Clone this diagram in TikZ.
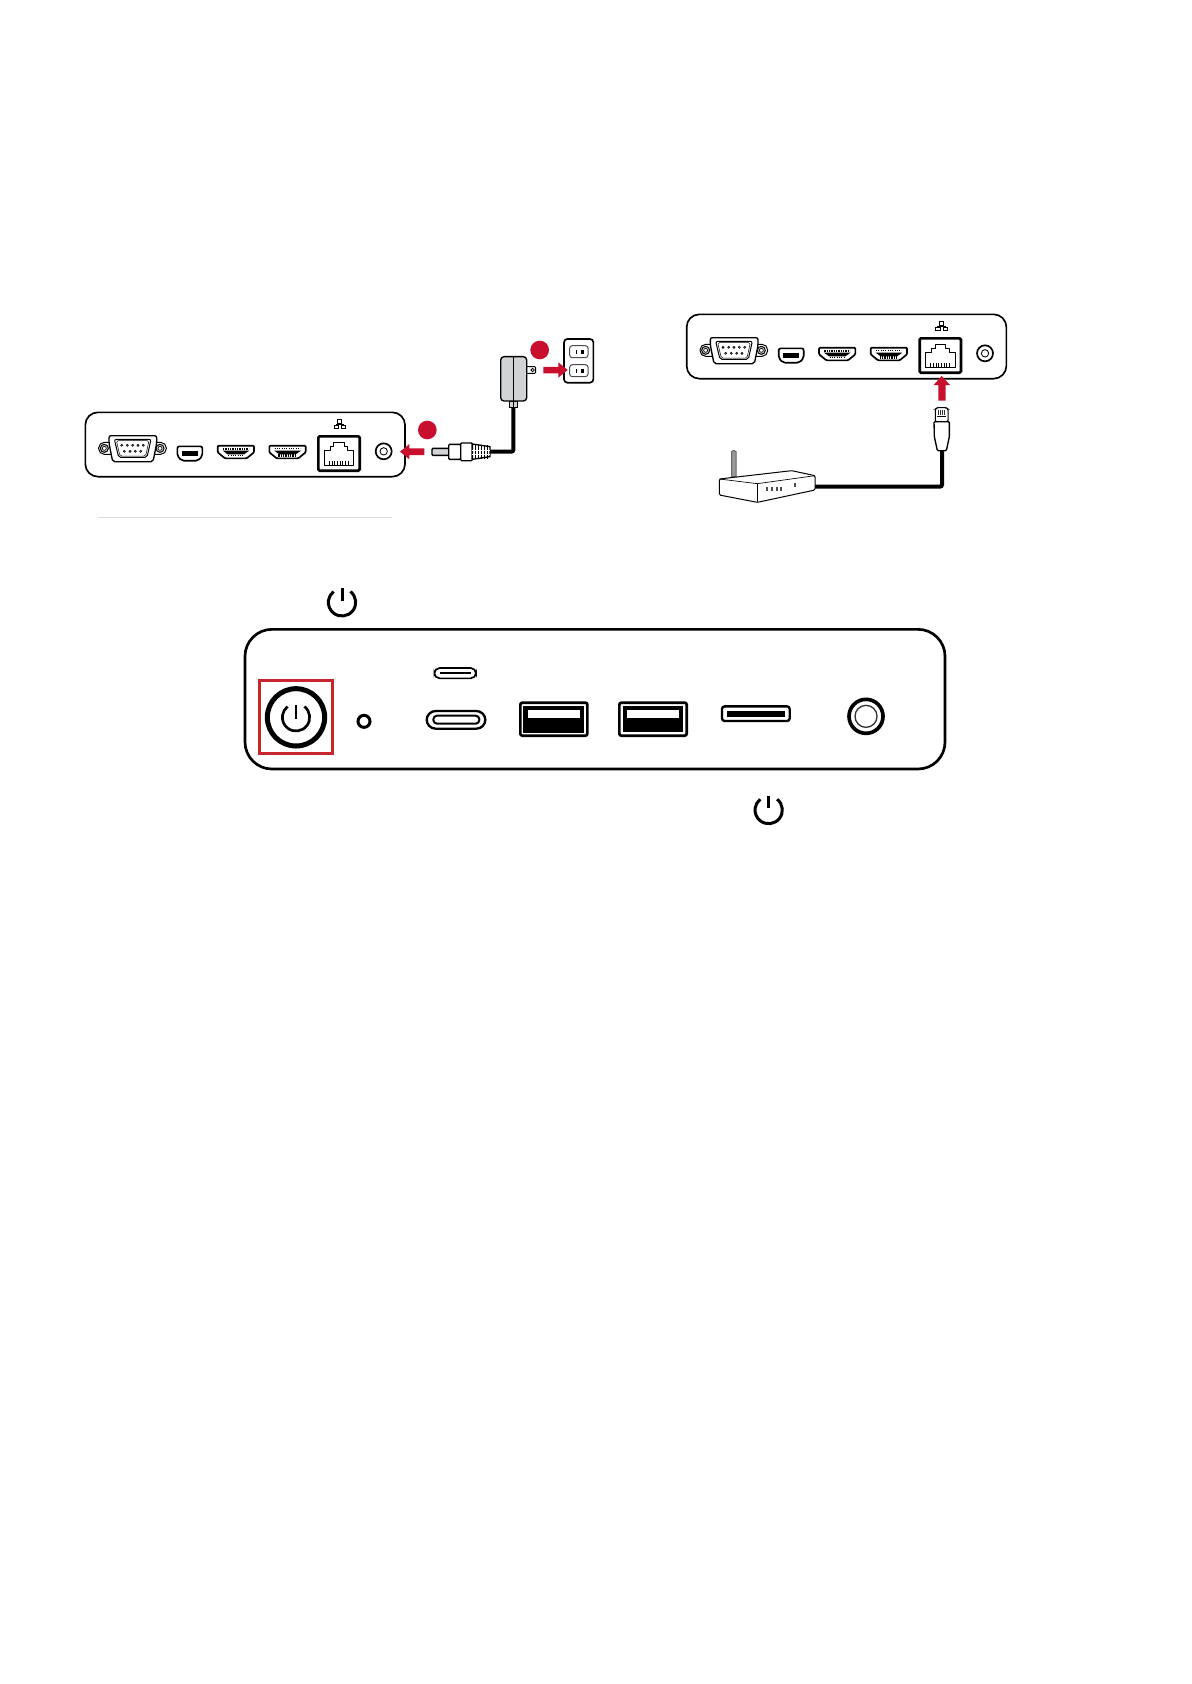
\documentclass[tikz,border=0pt]{standalone}
\definecolor{vsred}{HTML}{C8102E}
\definecolor{boxred}{HTML}{C9252C}
\definecolor{adgray}{HTML}{D2D3D4}
\definecolor{sep}{HTML}{DDDDDD}
\newcommand\zz[1]{#1*0.16667pt}
\tikzset{
  zoomscope/.style={x=0.16667pt,y=-0.16667pt},
  lw/.style={line width=\zz{#1}},
  panelbox/.style={draw=black,fill=white,lw=5,rounded corners=\zz{38}},
  port/.style={draw=black,fill=white,lw=5,line join=round},
  cable/.style={draw=black,lw=12,rounded corners=\zz{6}},
  redarrow/.style={fill=vsred,draw=none},
  reddot/.style={circle,fill=vsred,draw=none,minimum size=\zz{56},inner sep=0pt},
}
% power symbol: cx cy radius width bartop barbottom
\newcommand\powersym[6]{%
  \draw[black,lw=#4] ([shift=(-52:#3)]#1,#2) arc (-52:232:#3);
  \draw[black,lw=#4] (#1,#5) -- (#1,#6);
}
\newcommand\hdmiport[2]{% x offset, flip
  \begin{scope}[xshift=#1*0.16667pt]
    \draw[port,rounded corners=\zz{3}] (443,377) -- (552,377) -- (552,397) -- (530,415) -- (465,415) -- (443,397) -- cycle;
    \fill[black] (458,392) -- (538,392) -- (522,403) -- (473,403) -- cycle;
    \ifnum#2=0
      \draw[black,lw=7,dash pattern=on 4pt*0.16667 off 3pt*0.16667] (459,387) -- (536,387);
      \draw[black,lw=3,dash pattern=on 3pt*0.16667 off 4pt*0.16667] (475,407) -- (520,407);
    \else
      \draw[black,lw=3,dash pattern=on 3pt*0.16667 off 4pt*0.16667] (459,385) -- (536,385);
      \draw[black,lw=7,dash pattern=on 4pt*0.16667 off 3pt*0.16667] (470,406) -- (525,406);
    \fi
  \end{scope}}
\newcommand\rearpanel{%
  \begin{scope}[shift={(70,320)},zoomscope]
    \draw[panelbox] (46,277) rectangle (1005,470);
    % DB9
    \draw[black,fill=white,lw=3,rounded corners=\zz{17}] (86,367) rectangle (289,403);
    \foreach \fx in {103,270}{
      \draw[black,fill=adgray,lw=3] (\fx,385) circle (12);
      \draw[black,fill=white,lw=2] (\fx,385) circle (6);
    }
    \draw[port,lw=4,rounded corners=\zz{6}] (117,347) -- (260,347) -- (260,370) -- (249,425) -- (128,425) -- (117,370) -- cycle;
    \draw[black,fill=white,lw=3,rounded corners=\zz{6}] (133,358) -- (243,358) -- (231,412) -- (146,412) -- cycle;
    \draw[black,lw=1.5,rounded corners=\zz{5}] (139,362) -- (237,362) -- (227,408) -- (150,408) -- cycle;
    \foreach \px in {155,172,188,204,220} \draw[black,lw=2] (\px,376) circle (3);
    \foreach \px in {163,180,196,212} \draw[black,lw=2] (\px,394) circle (3);
    % mini display port
    \draw[port,lw=5,rounded corners=\zz{6}] (322,379) -- (397,379) -- (397,408) -- (384,422) -- (335,422) -- (322,408) -- cycle;
    \fill[black] (335,392) rectangle (383,408);
    % HDMI
    \hdmiport{0}{0}
    \hdmiport{155}{1}
    % network symbol
    \draw[black,lw=3] (803,298) rectangle (815,309);
    \draw[black,lw=3] (793,315) rectangle (806,325);
    \draw[black,lw=3] (815,315) rectangle (827,325);
    \draw[black,lw=2.5] (809,309) -- (809,315);
    \draw[black,lw=2.5] (799,315) -- (799,312) -- (821,312) -- (821,315);
    % RJ45
    \draw[black,fill=white,lw=8,rounded corners=\zz{4}] (745,349) rectangle (869,452);
    \draw[black,lw=3,line join=round] (762,435) -- (762,392) -- (780,392) -- (780,378) -- (791,378) -- (791,367) -- (822,367) -- (822,378) -- (833,378) -- (833,392) -- (851,392) -- (851,435) -- cycle;
    \foreach \px in {778,786,...,838} \draw[black,lw=3] (\px,423) -- (\px,434);
    % DC jack
    \draw[black,lw=5] (941,394) circle (24);
    \draw[black,lw=2.5] (941,394) circle (11);
  \end{scope}}
\begin{document}
\begin{tikzpicture}[x=0.5pt,y=-0.5pt]
\useasboundingbox (0,0) rectangle (1191,1684);
\fill[white] (0,0) rectangle (1191,1684);
% left rear panel
\rearpanel
\begin{scope}[shift={(70,320)},zoomscope]
  \draw[sep,lw=3] (85,592) -- (965,592);
\end{scope}
% right rear panel
\begin{scope}[shift={(601.33,-98)}]
  \rearpanel
\end{scope}
% power adapter and outlet
\begin{scope}[shift={(390,330)},zoomscope]
  \coordinate (adneck) at (370,233);
  \coordinate (dcplug) at (300,365);
  \draw[cable] (adneck) |- (dcplug);
  \draw[black,fill=adgray,lw=4] (358,213) rectangle (383,233);
  \draw[black,lw=3] (370,213) -- (370,233);
  \draw[black,fill=white,lw=3,rounded corners=\zz{3}] (408,110) -- (437,110) -- (437,130) -- (408,130);
  \draw[black,lw=2.5] (428,120) circle (5);
  \draw[black,fill=adgray,lw=4,rounded corners=\zz{10}] (332,80) rectangle (410,213);
  \draw[black,lw=4] (370,80) -- (370,213);
  % barrel plug
  \draw[black,fill=adgray,lw=4,rounded corners=\zz{3}] (126,355) rectangle (178,376);
  \draw[black,fill=white,lw=4,rounded corners=\zz{3}] (176,343) rectangle (212,388);
  \draw[black,fill=white,lw=4,rounded corners=\zz{3}] (212,339) rectangle (247,392);
  \draw[black,fill=white,lw=4] (247,342) -- (300,350) -- (300,380) -- (247,388) -- cycle;
  \foreach \px in {254,263,272,281,290} \fill[black] (\px,345) rectangle (\px+5,386);
  \foreach \py in {362,372} \draw[white,lw=2.5] (247,\py) -- (300,\py);
  % outlet
  \draw[black,fill=white,lw=5,rounded corners=\zz{10}] (522,27) rectangle (610,158);
  \foreach \sy in {47,104}{
    \draw[black!70,lw=3,rounded corners=\zz{8}] (539,\sy) rectangle (594,\sy+36);
    \fill[black] (558,\sy+12) rectangle (562,\sy+24);
    \fill[black] (574,\sy+12) rectangle (581,\sy+24);
  }
  % red arrows and dots
  \fill[redarrow] (460,111) -- (505,111) -- (505,97) -- (533,120) -- (505,143) -- (505,130) -- (460,130) -- cycle;
  \fill[redarrow] (103,355) -- (58,355) -- (58,342) -- (30,365) -- (58,388) -- (58,375) -- (103,375) -- cycle;
  \node[reddot] (dotb) at (449,60) {};
  \node[reddot] (dota) at (112,300) {};
\end{scope}
% LAN cable and router
\begin{scope}[shift={(680,305)},zoomscope]
  \coordinate (rjend) at (786,437);
  \coordinate (routerport) at (405,545);
  \draw[cable] (rjend) |- (routerport);
  \fill[redarrow] (785,213) -- (810,240) -- (797,240) -- (797,287) -- (775,287) -- (775,240) -- (761,240) -- cycle;
  % RJ45 plug
  \draw[black,fill=white,lw=3,rounded corners=\zz{4}] (766,350) -- (766,312) -- (772,308) -- (798,308) -- (804,312) -- (804,350) -- cycle;
  \foreach \px in {775,781,787,793} \draw[black!80,lw=1.5] (\px,314) -- (\px,330);
  \draw[black,lw=2] (772,335) -- (798,335);
  \draw[black,fill=white,lw=4,rounded corners=\zz{3}] (762,350) -- (808,350) -- (808,395) -- (799,437) -- (772,437) -- (763,395) -- cycle;
  % router
  \draw[black!60,fill=black!40,lw=3] (155,515) -- (155,440) -- (161,436) -- (168,440) -- (168,515) -- cycle;
  \draw[black,fill=white,lw=3,rounded corners=\zz{4},line join=round] (118,522) -- (335,497) -- (405,512) -- (405,555) -- (232,592) -- (118,570) -- cycle;
  \draw[black,lw=2] (118,522) -- (232,536) -- (405,512);
  \draw[black,lw=2] (232,536) -- (232,592);
  \foreach \px in {262,276,290,304} \fill[black!70] (\px-3,546) rectangle (\px+3,558);
  \fill[black!70] (343,534) rectangle (349,546);
\end{scope}
% front panel, left part
\begin{scope}[shift={(230,570)},zoomscope]
  \powersym{336}{97}{41}{9}{55}{92}
  \draw[black,fill=white,lw=8,rounded corners=\zz{81}] (45,178) rectangle (2145,597);
  \draw[boxred,lw=9] (89,331) rectangle (307,549);
  \draw[black,lw=15] (198,442) circle (86);
  \powersym{198}{442}{41}{8}{404}{446}
  \draw[black,lw=9] (402,454) circle (18);
  % USB-C label and port
  \draw[black,lw=5,rounded corners=\zz{16}] (613,294) rectangle (738,325);
  \draw[black,lw=4] (630,309) -- (722,309);
  \draw[black,lw=7,rounded corners=\zz{27}] (590,423) rectangle (766,476);
  \draw[black,lw=6,rounded corners=\zz{11}] (610,437) rectangle (748,461);
  % USB-A
  \draw[black,lw=8,rounded corners=\zz{6}] (871,398) rectangle (1072,497);
  \fill[black] (880,408) rectangle (1063,488);
  \fill[white] (893,420) rectangle (1051,444);
\end{scope}
% front panel, right part
\begin{scope}[shift={(590,620)},zoomscope]
  \draw[black,lw=8,rounded corners=\zz{6}] (88,248) rectangle (290,347);
  \fill[black] (98,258) rectangle (280,337);
  \fill[white] (110,270) rectangle (268,294);
  \draw[black,lw=7,rounded corners=\zz{8}] (396,259) rectangle (599,303);
  \fill[black] (411,272) rectangle (585,292);
  \draw[black,lw=11] (828,289) circle (51);
  \draw[black!80,lw=4] (828,289) circle (33);
  \powersym{536}{570}{41}{9}{527}{565}
\end{scope}
\end{tikzpicture}
\end{document}
